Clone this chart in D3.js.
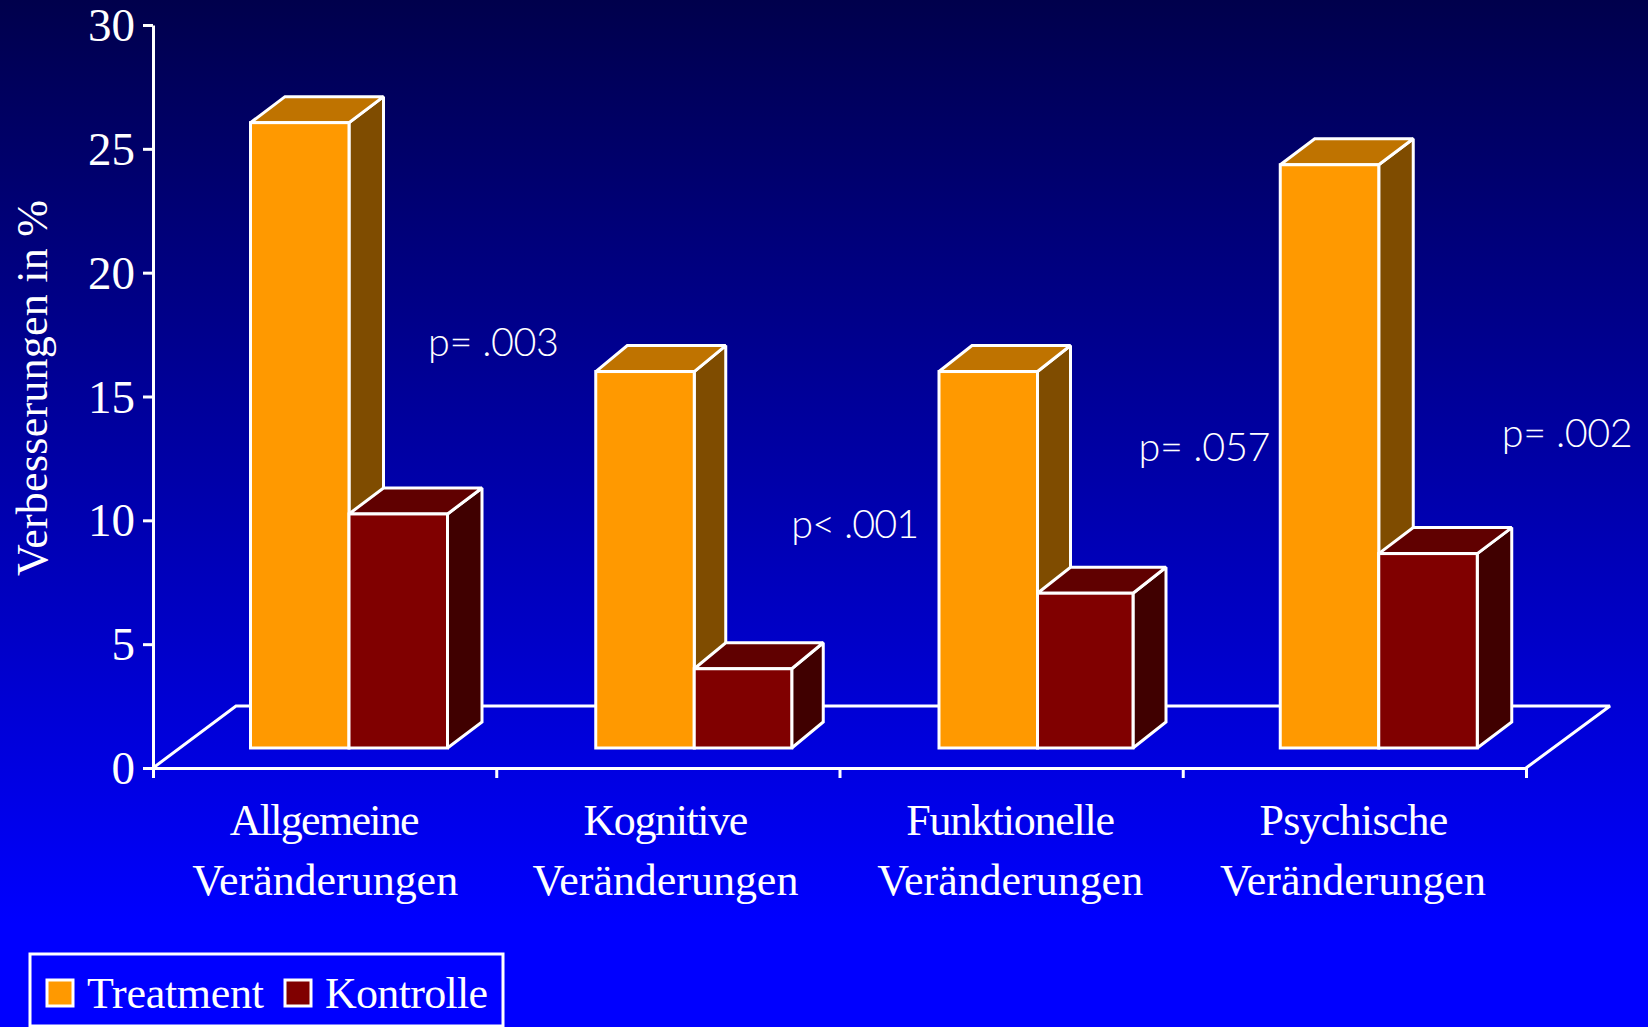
<!DOCTYPE html>
<html><head><meta charset="utf-8">
<script src="https://cdn.jsdelivr.net/npm/d3@7/dist/d3.min.js"></script>
<style>html,body{margin:0;padding:0;background:#00f;overflow:hidden}svg{display:block}</style>
</head><body><svg id="c" width="1648" height="1027"></svg>
<script>
const categories = ["Allgemeine","Kognitive","Funktionelle","Psychische"];
const categorySecondLine = "Veränderungen";
const seriesNames = ["Treatment","Kontrolle"];
const treatment = [25.25,15.2,15.2,23.55];
const kontrolle = [9.45,3.2,6.25,7.85];
const pLabels = ["p= .003","p< .001","p= .057","p= .002"];
const pHeights = [16.65,9.27,12.4,12.95];
const yTicks = [0,5,10,15,20,25,30];
const yTitle = "Verbesserungen in %";

const W=1648,H=1027;
const svg=d3.select("#c");
const serif="'Liberation Serif','Times New Roman',serif";
const defs=svg.append("defs");
const g=defs.append("linearGradient").attr("id","bg").attr("x1",0).attr("y1",0).attr("x2",0).attr("y2",1);
g.append("stop").attr("offset",0).attr("stop-color","#00004c");
g.append("stop").attr("offset",0.9).attr("stop-color","#0000ff");
svg.append("rect").attr("width",W).attr("height",H).attr("fill","url(#bg)");

const x0=153,x1=1526,y0=768,y1=25, sw=3;
const y=d3.scaleLinear().domain([0,30]).range([y0,y1]);
const x=d3.scaleBand().domain(categories).range([x0,x1]);
const inner=d3.scaleBand().domain(seriesNames).range([0,197]);
const dy=26,floorDx=83,floorDy=62,baseLift=20;
const groupPad=[97.5,99.5,99.5,97.5];
const depthX=[34.5,31.5,33,34.5];
const kontrolleTrim=[0,1,3,0];

// floor
const line=d3.line();
svg.append("path").attr("d",line([[x0,y0],[x0+floorDx,y0-floorDy],[x1+floorDx+1,y0-floorDy],[x1,y0]]))
  .attr("fill","none").attr("stroke","#fff").attr("stroke-width",sw).attr("stroke-linejoin","miter").attr("stroke-miterlimit",2);

// axes
const axY=svg.append("g").attr("transform",`translate(${x0},0)`)
  .call(d3.axisLeft(y).tickValues(yTicks).tickSize(10).tickPadding(8).tickSizeOuter(0));
axY.select(".domain").attr("stroke","#fff").attr("stroke-width",sw);
axY.selectAll(".tick line").attr("stroke","#fff").attr("stroke-width",sw);
axY.selectAll("text").attr("fill","#fff").attr("font-family",serif).attr("font-size",47).attr("dy","0.33em");

const boundaries=d3.scaleLinear().domain([0,4]).range([x0,x1]);
const axX=svg.append("g").attr("transform",`translate(0,${y0})`)
  .call(d3.axisBottom(boundaries).tickValues([0,1,2,3,4]).tickSize(10).tickFormat("").tickSizeOuter(0));
axX.select(".domain").attr("stroke","#fff").attr("stroke-width",sw);
axX.selectAll(".tick line").attr("stroke","#fff").attr("stroke-width",sw);

// bars
const colors={Treatment:{f:"#ff9900",s:"#7f4c00",t:"#bf7300"},Kontrolle:{f:"#800000",s:"#400000",t:"#600000"}};
const rows=categories.flatMap((c,i)=>[
  {c,i,s:"Treatment",v:treatment[i]},{c,i,s:"Kontrolle",v:kontrolle[i]}]);
const bars=svg.append("g").selectAll("g").data(rows).join("g")
  .attr("stroke","#fff").attr("stroke-width",sw).attr("stroke-linejoin","miter").attr("stroke-miterlimit",2);
const geo=d=>{const l=x(d.c)+groupPad[d.i]+inner(d.s);
  return {l,r:l+inner.bandwidth()-(d.s==="Kontrolle"?kontrolleTrim[d.i]:0),
    t:y(d.v)-baseLift,b:y0-baseLift,dx:depthX[d.i]};};
bars.append("path").attr("fill",d=>colors[d.s].s).attr("d",d=>{const a=geo(d);
  return line([[a.r,a.t],[a.r+a.dx,a.t-dy],[a.r+a.dx,a.b-dy],[a.r,a.b]])+"Z";});
bars.append("path").attr("fill",d=>colors[d.s].t).attr("d",d=>{const a=geo(d);
  return line([[a.l,a.t],[a.l+a.dx,a.t-dy],[a.r+a.dx,a.t-dy],[a.r,a.t]])+"Z";});
bars.append("rect").attr("fill",d=>colors[d.s].f)
  .attr("x",d=>geo(d).l).attr("y",d=>geo(d).t)
  .attr("width",d=>geo(d).r-geo(d).l).attr("height",d=>geo(d).b-geo(d).t);

// category labels
const catG=svg.append("g").attr("fill","#fff").attr("font-family",serif).attr("font-size",44).attr("text-anchor","middle");
const labelCenter=[3,1,2.5,2.5];
const line2Center=[3.5,0.5,2,1.5];
const catWidths=[190,165,209,189];
catG.selectAll("text.a").data(categories).join("text").attr("class","a")
  .attr("x",(d,i)=>x(d)+x.bandwidth()/2-3+labelCenter[i]).attr("y",835)
  .attr("textLength",(d,i)=>catWidths[i]).attr("lengthAdjust","spacing").text(d=>d);
catG.selectAll("text.b").data(categories).join("text").attr("class","b")
  .attr("x",(d,i)=>x(d)+x.bandwidth()/2-3+line2Center[i]).attr("y",895)
  .attr("textLength",266).attr("lengthAdjust","spacing").text(categorySecondLine);

// p labels
const pOffsets=[275,295,299,319];
const pWidths=[131,128,132,131];
svg.append("g").attr("fill","#fff").attr("font-family","Lato,'Open Sans',sans-serif").attr("font-weight",300).attr("font-size",39.5)
  .selectAll("text").data(pLabels).join("text")
  .attr("x",(d,i)=>x(categories[i])+pOffsets[i]).attr("y",(d,i)=>y(pHeights[i]))
  .attr("textLength",(d,i)=>pWidths[i]).attr("lengthAdjust","spacing").text(d=>d);

// y title
svg.append("text").attr("transform","translate(47,388) rotate(-90)").attr("text-anchor","middle")
  .attr("fill","#fff").attr("font-family",serif).attr("font-size",44).attr("textLength",376).attr("lengthAdjust","spacing").text(yTitle);

// legend
const leg=svg.append("g");
leg.append("rect").attr("x",30).attr("y",954).attr("width",473).attr("height",72)
  .attr("fill","#0000ff").attr("stroke","#fff").attr("stroke-width",sw);
const lx=d3.scaleOrdinal().domain(seriesNames).range([47,285]);
const legWidths=d3.scaleOrdinal().domain(seriesNames).range([177,163]);
leg.selectAll("rect.k").data(seriesNames).join("rect").attr("class","k")
  .attr("x",d=>lx(d)).attr("y",980).attr("width",26).attr("height",26)
  .attr("fill",d=>colors[d].f).attr("stroke","#fff").attr("stroke-width",sw);
leg.selectAll("text").data(seriesNames).join("text")
  .attr("x",d=>lx(d)+40).attr("y",1008).attr("fill","#fff").attr("font-family",serif).attr("font-size",44)
  .attr("textLength",d=>legWidths(d)).attr("lengthAdjust","spacing").text(d=>d);
</script></body></html>
